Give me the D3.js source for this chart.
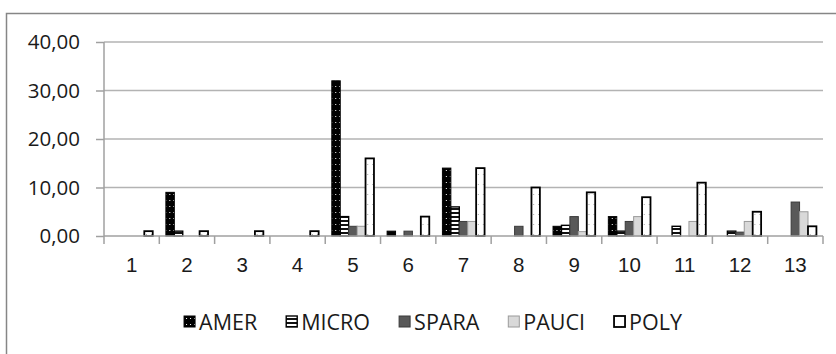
<!DOCTYPE html>
<html>
<head>
<meta charset="utf-8">
<script src="https://cdn.jsdelivr.net/npm/d3@7"></script>
<style>
  body { margin: 0; background: #fff; }
  svg { display: block; font-family: "Open Sans", "Liberation Sans", sans-serif; }
</style>
</head>
<body>
<svg></svg>
<script>
const categories = ['1', '2', '3', '4', '5', '6', '7', '8', '9', '10', '11', '12', '13'];
const seriesNames = ['AMER', 'MICRO', 'SPARA', 'PAUCI', 'POLY'];
const amer  = [0, 9, 0, 0, 32, 1, 14, 0, 2, 4, 0, 0, 0];
const micro = [0, 1, 0, 0, 4, 0, 6, 0, 2.2, 1, 2, 1, 0];
const spara = [0, 0, 0, 0, 2, 1, 3, 2, 4, 3, 0, 0.8, 7];
const pauci = [0, 0, 0, 0, 2, 0, 3, 0, 0.9, 4, 3, 3, 5];
const poly  = [1, 1, 1, 1, 16, 4, 14, 10, 9, 8, 11, 5, 2];
const yTicks = [0, 10, 20, 30, 40];

const values = [amer, micro, spara, pauci, poly];
const data = categories.map((c, i) => ({
  cat: c,
  vals: seriesNames.map((s, j) => ({ key: s, value: values[j][i] }))
}));

const width = 836, height = 354;
const plotLeft = 104, plotRight = 823, plotTop = 42, plotBottom = 236;
const fontSize = 20.5;
const textColor = '#1a1a1a';

const svg = d3.select('svg').attr('width', width).attr('height', height);
const defs = svg.append('defs');

// fills for each series
const pAmer = defs.append('pattern').attr('id', 'p-amer').attr('patternUnits', 'userSpaceOnUse')
  .attr('width', 4).attr('height', 6);
pAmer.append('rect').attr('width', 4).attr('height', 6).attr('fill', '#000');
pAmer.append('rect').attr('x', 2).attr('y', 2).attr('width', 1).attr('height', 1).attr('fill', '#fff');

const pMicro = defs.append('pattern').attr('id', 'p-micro').attr('patternUnits', 'userSpaceOnUse')
  .attr('width', 4).attr('height', 4);
pMicro.append('rect').attr('width', 4).attr('height', 4).attr('fill', '#fff');
pMicro.append('rect').attr('y', 0).attr('width', 4).attr('height', 2).attr('fill', '#111');

const pPoly = defs.append('pattern').attr('id', 'p-poly').attr('patternUnits', 'userSpaceOnUse')
  .attr('width', 5).attr('height', 10);
pPoly.append('rect').attr('width', 5).attr('height', 10).attr('fill', '#fff');
pPoly.append('rect').attr('x', 2).attr('y', 4).attr('width', 1).attr('height', 1).attr('fill', '#aaa');

const color = d3.scaleOrdinal().domain(seriesNames)
  .range(['url(#p-amer)', 'url(#p-micro)', '#595959', '#d9d9d9', 'url(#p-poly)']);
const stroke = d3.scaleOrdinal().domain(seriesNames)
  .range(['#000', '#000', '#3a3a3a', '#9a9a9a', '#000']);
const strokeW = d3.scaleOrdinal().domain(seriesNames).range([1, 1.4, 1, 1, 1.8]);

// outer frame (only top/left visible in the crop)
svg.append('rect')
  .attr('x', 6.5).attr('y', 13.5).attr('width', 850).attr('height', 360)
  .attr('fill', 'none').attr('stroke', '#868686').attr('stroke-width', 1.5);

const x0 = d3.scaleBand().domain(categories).range([plotLeft, plotRight]).padding(0);
const x1 = d3.scaleBand().domain(seriesNames).range([0, x0.bandwidth()])
  .paddingInner(0).paddingOuter(0.78);
const y = d3.scaleLinear().domain([0, 40]).range([plotBottom, plotTop]);

// gridlines
svg.append('g')
  .selectAll('line').data(yTicks.filter(d => d > 0)).join('line')
  .attr('x1', plotLeft).attr('x2', plotRight)
  .attr('y1', d => y(d)).attr('y2', d => y(d))
  .attr('stroke', '#b3b3b3').attr('stroke-width', 1.5);

// y axis
const yAxis = svg.append('g')
  .attr('transform', 'translate(' + plotLeft + ',0)')
  .call(d3.axisLeft(y).tickValues(yTicks).tickSize(8).tickPadding(16)
    .tickFormat(d => d3.format('.2f')(d).replace('.', ',')));
yAxis.select('.domain').attr('stroke', '#a0a0a0').attr('stroke-width', 1.5)
  .attr('d', 'M0,' + plotTop + 'V' + plotBottom);
yAxis.selectAll('.tick line').attr('stroke', '#a0a0a0').attr('stroke-width', 1.5);
yAxis.selectAll('.tick text').attr('font-size', fontSize).attr('fill', textColor)
  .attr('font-family', '"Open Sans", sans-serif');

// bars
svg.append('g')
  .selectAll('g').data(data).join('g')
  .attr('transform', d => 'translate(' + x0(d.cat) + ',0)')
  .selectAll('rect').data(d => d.vals.filter(v => v.value > 0)).join('rect')
  .attr('x', d => x1(d.key))
  .attr('y', d => y(d.value))
  .attr('width', x1.bandwidth())
  .attr('height', d => plotBottom - y(d.value))
  .attr('fill', d => color(d.key))
  .attr('stroke', d => stroke(d.key))
  .attr('stroke-width', d => strokeW(d.key));

// x axis
const xAxis = svg.append('g')
  .attr('transform', 'translate(0,' + plotBottom + ')')
  .call(d3.axisBottom(x0).tickSize(0).tickPadding(21));
xAxis.select('.domain').attr('stroke', '#a0a0a0').attr('stroke-width', 1.5)
  .attr('d', 'M' + plotLeft + ',0H' + plotRight);
xAxis.selectAll('.tick text').attr('font-size', fontSize).attr('fill', textColor);
xAxis.selectAll('.sep').data(categories.concat(['end'])).join('line')
  .attr('class', 'sep')
  .attr('x1', (d, i) => i < categories.length ? x0(d) : plotRight)
  .attr('x2', (d, i) => i < categories.length ? x0(d) : plotRight)
  .attr('y1', 0).attr('y2', 8)
  .attr('stroke', '#a0a0a0').attr('stroke-width', 1.5);

// legend
const legend = svg.append('g').attr('transform', 'translate(0,322)');
const items = legend.selectAll('g').data(seriesNames).join('g');
items.append('rect')
  .attr('y', -6).attr('width', 11).attr('height', 11)
  .attr('fill', d => color(d)).attr('stroke', d => stroke(d))
  .attr('stroke-width', d => strokeW(d));
items.append('text')
  .attr('x', 15).attr('dy', '0.35em')
  .attr('font-size', 21.5).attr('fill', textColor)
  .text(d => d);

const widths = [];
items.each(function () {
  widths.push(15 + this.querySelector('text').getComputedTextLength());
});
const gap = 29;
const total = d3.sum(widths) + gap * (widths.length - 1);
let pos = 433 - total / 2;
items.attr('transform', (d, i) => {
  const t = 'translate(' + pos + ',0)';
  pos += widths[i] + gap;
  return t;
});
</script>
</body>
</html>
